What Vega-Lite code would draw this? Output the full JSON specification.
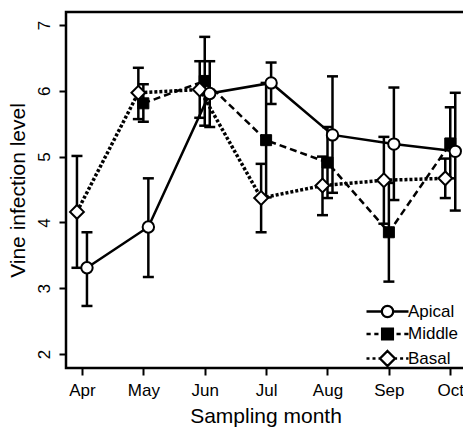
{
  "$schema": "https://vega.github.io/schema/vega-lite/v6.json",
  "autosize": {"type": "none"},
  "padding": {"left": 66, "top": 12, "right": 0, "bottom": 60},
  "width": 399,
  "height": 356,
  "background": "white",
  "config": {
    "view": {"stroke": "black", "strokeWidth": 2.5},
    "font": "Liberation Sans",
    "axis": {"grid": false, "domain": false, "tickColor": "black", "tickWidth": 2, "tickSize": 7, "labelColor": "black", "titleColor": "black", "labelFont": "Liberation Sans", "titleFont": "Liberation Sans", "labelFontSize": 17, "titleFontSize": 21, "titleFontWeight": "normal", "labelOverlap": false, "labelFlush": false, "labelBound": false}
  },
  "data": {"values": [
    {"series": "Apical", "month": 0, "mean": 3.31, "lo": 2.73, "hi": 3.85},
    {"series": "Apical", "month": 1, "mean": 3.93, "lo": 3.17, "hi": 4.67},
    {"series": "Apical", "month": 2, "mean": 5.96, "lo": 5.45, "hi": 6.45},
    {"series": "Apical", "month": 3, "mean": 6.12, "lo": 5.8, "hi": 6.43},
    {"series": "Apical", "month": 4, "mean": 5.33, "lo": 4.45, "hi": 6.22},
    {"series": "Apical", "month": 5, "mean": 5.19, "lo": 4.34, "hi": 6.05},
    {"series": "Apical", "month": 6, "mean": 5.08, "lo": 4.18, "hi": 5.97},
    {"series": "Middle", "month": 1, "mean": 5.81, "lo": 5.53, "hi": 6.1},
    {"series": "Middle", "month": 2, "mean": 6.15, "lo": 5.47, "hi": 6.82},
    {"series": "Middle", "month": 3, "mean": 5.25, "lo": 4.38, "hi": 6.12},
    {"series": "Middle", "month": 4, "mean": 4.91, "lo": 4.37, "hi": 5.45},
    {"series": "Middle", "month": 5, "mean": 3.85, "lo": 3.1, "hi": 4.6},
    {"series": "Middle", "month": 6, "mean": 5.2, "lo": 4.67, "hi": 5.75},
    {"series": "Basal", "month": 0, "mean": 4.16, "lo": 3.31, "hi": 5.01},
    {"series": "Basal", "month": 1, "mean": 5.97, "lo": 5.57, "hi": 6.35},
    {"series": "Basal", "month": 2, "mean": 6.02, "lo": 5.59, "hi": 6.45},
    {"series": "Basal", "month": 3, "mean": 4.37, "lo": 3.85, "hi": 4.89},
    {"series": "Basal", "month": 4, "mean": 4.56, "lo": 4.11, "hi": 5.0},
    {"series": "Basal", "month": 5, "mean": 4.64, "lo": 3.98, "hi": 5.3},
    {"series": "Basal", "month": 6, "mean": 4.67, "lo": 4.37, "hi": 4.97}
  ]},
  "encoding": {
    "x": {"field": "month", "type": "quantitative", "scale": {"domain": [-0.26, 6.24], "nice": false, "zero": false},
      "axis": {"title": "Sampling month", "values": [0, 1, 2, 3, 4, 5, 6], "labelExpr": "['Apr','May','Jun','Jul','Aug','Sep','Oct'][datum.value]", "labelPadding": 7, "titlePadding": 7}}
  },
  "layer": [
    {"transform": [{"filter": "datum.series === 'Apical'"}], "mark": {"type": "line", "xOffset": 5, "strokeWidth": 2.5, "color": "black"},
     "encoding": {"y": {"field": "mean", "type": "quantitative", "title": "Vine infection level", "scale": {"domain": [1.787, 7.198], "nice": false, "zero": false},
        "axis": {"values": [2, 3, 4, 5, 6, 7], "format": "d", "labelAngle": -90, "labelAlign": "center", "labelBaseline": "alphabetic", "labelPadding": 10, "titlePadding": 7}}}},
    {"transform": [{"filter": "datum.series === 'Middle'"}], "mark": {"type": "line", "xOffset": 0, "strokeWidth": 2.5, "color": "black", "strokeDash": [7, 4]},
     "encoding": {"y": {"field": "mean", "type": "quantitative", "title": "Vine infection level", "scale": {"domain": [1.787, 7.198], "nice": false, "zero": false}}}},
    {"transform": [{"filter": "datum.series === 'Basal'"}], "mark": {"type": "line", "xOffset": -5, "strokeWidth": 3.5, "color": "black", "strokeDash": [3, 2]},
     "encoding": {"y": {"field": "mean", "type": "quantitative", "title": "Vine infection level", "scale": {"domain": [1.787, 7.198], "nice": false, "zero": false}}}},

    {"transform": [{"filter": "datum.series === 'Apical'"}], "mark": {"type": "rule", "xOffset": 5, "strokeWidth": 2.5, "color": "black"},
     "encoding": {"y": {"field": "lo", "type": "quantitative", "title": "Vine infection level", "scale": {"domain": [1.787, 7.198], "nice": false, "zero": false}}, "y2": {"field": "hi"}}},
    {"transform": [{"filter": "datum.series === 'Middle'"}], "mark": {"type": "rule", "xOffset": 0, "strokeWidth": 2.5, "color": "black"},
     "encoding": {"y": {"field": "lo", "type": "quantitative", "title": "Vine infection level", "scale": {"domain": [1.787, 7.198], "nice": false, "zero": false}}, "y2": {"field": "hi"}}},
    {"transform": [{"filter": "datum.series === 'Basal'"}], "mark": {"type": "rule", "xOffset": -5, "strokeWidth": 2.5, "color": "black"},
     "encoding": {"y": {"field": "lo", "type": "quantitative", "title": "Vine infection level", "scale": {"domain": [1.787, 7.198], "nice": false, "zero": false}}, "y2": {"field": "hi"}}},

    {"transform": [{"filter": "datum.series === 'Apical'"}], "mark": {"type": "tick", "orient": "horizontal", "xOffset": 5, "size": 11, "thickness": 2.5, "color": "black", "opacity": 1},
     "encoding": {"y": {"field": "lo", "type": "quantitative", "title": "Vine infection level", "scale": {"domain": [1.787, 7.198], "nice": false, "zero": false}}}},
    {"transform": [{"filter": "datum.series === 'Apical'"}], "mark": {"type": "tick", "orient": "horizontal", "xOffset": 5, "size": 11, "thickness": 2.5, "color": "black", "opacity": 1},
     "encoding": {"y": {"field": "hi", "type": "quantitative", "title": "Vine infection level", "scale": {"domain": [1.787, 7.198], "nice": false, "zero": false}}}},
    {"transform": [{"filter": "datum.series === 'Middle'"}], "mark": {"type": "tick", "orient": "horizontal", "xOffset": 0, "size": 11, "thickness": 2.5, "color": "black", "opacity": 1},
     "encoding": {"y": {"field": "lo", "type": "quantitative", "title": "Vine infection level", "scale": {"domain": [1.787, 7.198], "nice": false, "zero": false}}}},
    {"transform": [{"filter": "datum.series === 'Middle'"}], "mark": {"type": "tick", "orient": "horizontal", "xOffset": 0, "size": 11, "thickness": 2.5, "color": "black", "opacity": 1},
     "encoding": {"y": {"field": "hi", "type": "quantitative", "title": "Vine infection level", "scale": {"domain": [1.787, 7.198], "nice": false, "zero": false}}}},
    {"transform": [{"filter": "datum.series === 'Basal'"}], "mark": {"type": "tick", "orient": "horizontal", "xOffset": -5, "size": 11, "thickness": 2.5, "color": "black", "opacity": 1},
     "encoding": {"y": {"field": "lo", "type": "quantitative", "title": "Vine infection level", "scale": {"domain": [1.787, 7.198], "nice": false, "zero": false}}}},
    {"transform": [{"filter": "datum.series === 'Basal'"}], "mark": {"type": "tick", "orient": "horizontal", "xOffset": -5, "size": 11, "thickness": 2.5, "color": "black", "opacity": 1},
     "encoding": {"y": {"field": "hi", "type": "quantitative", "title": "Vine infection level", "scale": {"domain": [1.787, 7.198], "nice": false, "zero": false}}}},

    {"transform": [{"filter": "datum.series === 'Middle'"}], "mark": {"type": "point", "shape": "square", "xOffset": 0, "size": 121, "filled": true, "fill": "black", "stroke": "black", "strokeWidth": 1, "opacity": 1},
     "encoding": {"y": {"field": "mean", "type": "quantitative", "title": "Vine infection level", "scale": {"domain": [1.787, 7.198], "nice": false, "zero": false}}}},
    {"transform": [{"filter": "datum.series === 'Basal'"}], "mark": {"type": "point", "shape": "diamond", "xOffset": -5, "size": 190, "filled": true, "fill": "white", "stroke": "black", "strokeWidth": 2, "opacity": 1},
     "encoding": {"y": {"field": "mean", "type": "quantitative", "title": "Vine infection level", "scale": {"domain": [1.787, 7.198], "nice": false, "zero": false}}}},
    {"transform": [{"filter": "datum.series === 'Apical'"}], "mark": {"type": "point", "shape": "circle", "xOffset": 5, "size": 130, "filled": true, "fill": "white", "stroke": "black", "strokeWidth": 2, "opacity": 1},
     "encoding": {"y": {"field": "mean", "type": "quantitative", "title": "Vine infection level", "scale": {"domain": [1.787, 7.198], "nice": false, "zero": false}}}},

    {"transform": [{"filter": "datum.series === 'none'"}],
     "mark": {"type": "point", "filled": false, "color": "black", "strokeWidth": 2.3, "opacity": 1},
     "encoding": {"y": {"field": "mean", "type": "quantitative", "title": "Vine infection level", "scale": {"domain": [1.787, 7.198], "nice": false, "zero": false}},
       "shape": {"field": "series", "type": "nominal",
         "scale": {"domain": ["Apical", "Middle", "Basal"], "range": [
           "M-3.5,0H-0.95M0.95,0H3.5M-0.95,0A0.95,0.95,0,1,0,0.95,0A0.95,0.95,0,1,0,-0.95,0Z",
           "M-3.5,0H-2.8M-2.2,0H-1.5M1.5,0H2.2M2.8,0H3.5M-0.9,-0.9H0.9V0.9H-0.9ZM-0.9,-0.6H0.9M-0.9,-0.3H0.9M-0.9,0H0.9M-0.9,0.3H0.9M-0.9,0.6H0.9",
           "M-3.5,0H-3M-2.5,0H-2M-1.5,0H-1.25M1.25,0H1.6M2.1,0H2.6M3.1,0H3.5M0,-1.25L1.25,0L0,1.25L-1.25,0Z"]},
         "legend": {"title": null, "orient": "none", "legendX": 313, "legendY": 291, "symbolSize": 144, "symbolStrokeWidth": 2.3, "labelFontSize": 17, "labelFont": "Liberation Sans", "labelColor": "black", "labelOffset": 12, "rowPadding": 1.5, "padding": 0}}}}
  ]
}
